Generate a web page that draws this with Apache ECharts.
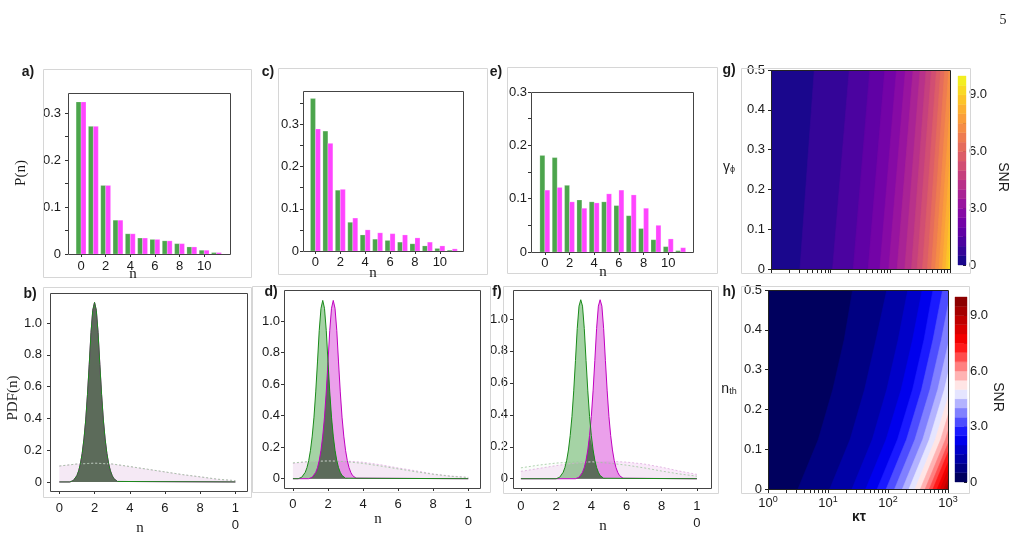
<!DOCTYPE html>
<html><head><meta charset="utf-8">
<script src="https://cdn.jsdelivr.net/npm/echarts@6/dist/echarts.min.js"></script>
<style>html,body{margin:0;padding:0;background:#fff}#c{width:1025px;height:540px}</style>
</head><body><div id="c"></div>
<script>
// ---------------- DATA ----------------
const nCats = [0,1,2,3,4,5,6,7,8,9,10,11];
const aGreen = [0.324,0.272,0.146,0.072,0.043,0.034,0.031,0.028,0.022,0.015,0.008,0.003];
const aPink  = [0.324,0.272,0.146,0.072,0.043,0.034,0.031,0.028,0.022,0.015,0.008,0.003];
const cGreen = [0.361,0.284,0.144,0.068,0.038,0.028,0.025,0.021,0.017,0.012,0.006,0.002];
const cPink  = [0.289,0.255,0.146,0.078,0.050,0.043,0.041,0.038,0.031,0.021,0.012,0.005];
const eGreen = [0.181,0.177,0.125,0.0975,0.094,0.094,0.087,0.068,0.044,0.023,0.010,0.0025];
const ePink  = [0.116,0.121,0.094,0.082,0.092,0.109,0.116,0.107,0.082,0.050,0.0245,0.008];

const nGrid = [0,1,2,3,4,5,6,7,8,9,10];
const bBroadPink  = [0.100,0.113,0.118,0.113,0.097,0.080,0.063,0.046,0.032,0.017,0.008];
const bBroadGreen = [0.100,0.113,0.118,0.113,0.097,0.080,0.063,0.046,0.032,0.017,0.008];
const dBroadPink  = [0.098,0.108,0.113,0.112,0.104,0.088,0.068,0.050,0.030,0.017,0.009];
const dBroadGreen = [0.100,0.110,0.112,0.108,0.097,0.080,0.062,0.044,0.028,0.015,0.007];
const fBroadPink  = [0.046,0.064,0.082,0.097,0.106,0.109,0.104,0.092,0.072,0.048,0.027];
const fBroadGreen = [0.068,0.085,0.098,0.105,0.105,0.098,0.085,0.068,0.048,0.030,0.016];

const bPeakGreen = [[0,0],[0.6,0],[0.7,0.003],[0.8,0.009],[0.9,0.02],[1.0,0.04],[1.1,0.07],[1.2,0.115],[1.3,0.18],[1.4,0.27],[1.5,0.39],[1.6,0.55],[1.7,0.74],[1.8,0.94],[1.9,1.08],[2.0,1.13],[2.1,1.08],[2.2,0.94],[2.3,0.74],[2.4,0.55],[2.5,0.39],[2.6,0.27],[2.7,0.18],[2.8,0.115],[2.9,0.07],[3.0,0.04],[3.1,0.02],[3.2,0.009],[3.3,0.003],[3.4,0],[10,0]];
const bPeakPink  = [[0,0],[0.6,0],[0.7,0.003],[0.8,0.009],[0.9,0.02],[1.0,0.04],[1.1,0.07],[1.2,0.115],[1.3,0.18],[1.4,0.27],[1.5,0.39],[1.6,0.55],[1.7,0.74],[1.8,0.94],[1.9,1.08],[2.0,1.13],[2.1,1.08],[2.2,0.94],[2.3,0.74],[2.4,0.55],[2.5,0.39],[2.6,0.27],[2.7,0.18],[2.8,0.115],[2.9,0.07],[3.0,0.04],[3.1,0.02],[3.2,0.009],[3.3,0.003],[3.4,0],[10,0]];
const dPeakGreen = [[0,0],[0.3,0],[0.4,0.003],[0.5,0.009],[0.6,0.02],[0.7,0.04],[0.8,0.07],[0.9,0.115],[1.0,0.18],[1.1,0.27],[1.2,0.39],[1.3,0.55],[1.4,0.74],[1.5,0.94],[1.6,1.08],[1.7,1.13],[1.8,1.08],[1.9,0.94],[2.0,0.74],[2.1,0.55],[2.2,0.39],[2.3,0.27],[2.4,0.18],[2.5,0.115],[2.6,0.07],[2.7,0.04],[2.8,0.02],[2.9,0.009],[3.0,0.003],[3.1,0],[10,0]];
const dPeakPink  = [[0,0],[0.9,0],[1.0,0.003],[1.1,0.009],[1.2,0.02],[1.3,0.04],[1.4,0.07],[1.5,0.115],[1.6,0.18],[1.7,0.27],[1.8,0.39],[1.9,0.55],[2.0,0.74],[2.1,0.94],[2.2,1.08],[2.3,1.13],[2.4,1.08],[2.5,0.94],[2.6,0.74],[2.7,0.55],[2.8,0.39],[2.9,0.27],[3.0,0.18],[3.1,0.115],[3.2,0.07],[3.3,0.04],[3.4,0.02],[3.5,0.009],[3.6,0.003],[3.7,0],[10,0]];
const fPeakGreen = [[0,0],[2.0,0],[2.1,0.003],[2.2,0.009],[2.3,0.02],[2.4,0.04],[2.5,0.07],[2.6,0.115],[2.7,0.18],[2.8,0.27],[2.9,0.39],[3.0,0.55],[3.1,0.74],[3.2,0.94],[3.3,1.08],[3.4,1.12],[3.5,1.08],[3.6,0.94],[3.7,0.74],[3.8,0.55],[3.9,0.39],[4.0,0.27],[4.1,0.18],[4.2,0.115],[4.3,0.07],[4.4,0.04],[4.5,0.02],[4.6,0.009],[4.7,0.003],[4.8,0],[10,0]];
const fPeakPink  = [[0,0],[3.1,0],[3.2,0.003],[3.3,0.009],[3.4,0.02],[3.5,0.04],[3.6,0.07],[3.7,0.115],[3.8,0.18],[3.9,0.27],[4.0,0.39],[4.1,0.55],[4.2,0.74],[4.3,0.94],[4.4,1.08],[4.5,1.12],[4.6,1.08],[4.7,0.94],[4.8,0.74],[4.9,0.55],[5.0,0.39],[5.1,0.27],[5.2,0.18],[5.3,0.115],[5.4,0.07],[5.5,0.04],[5.6,0.02],[5.7,0.009],[5.8,0.003],[5.9,0],[10,0]];

// contour levels (SNR) and boundary positions, x in log10(kappa*tau)
const snrLevels = [0,0.5,1,1.5,2,2.5,3,3.5,4,4.5,5,5.5,6,6.5,7,7.5,8,8.5,9,9.5];
const gGamma = [0, 0.5];
const gBoundBottom = [0.485,1.032,1.378,1.629,1.824,1.974,2.114,2.242,2.354,2.448,2.538,2.621,2.688,2.755,2.816,2.872,2.928,2.973,3.02];
const gBoundTop    = [0.725,1.311,1.656,1.907,2.103,2.253,2.381,2.499,2.599,2.688,2.772,2.844,2.911,2.978,3.04,3.10,3.16,3.21,3.26];
const hNth = [0, 0.125, 0.25, 0.375, 0.5];
const hBounds = [
  [0.50, 0.84, 1.08, 1.27, 1.41],
  [1.03, 1.37, 1.61, 1.80, 1.98],
  [1.40, 1.74, 1.98, 2.17, 2.33],
  [1.63, 1.97, 2.22, 2.41, 2.57],
  [1.82, 2.16, 2.41, 2.60, 2.75],
  [1.97, 2.31, 2.56, 2.75, 2.91],
  [2.11, 2.45, 2.70, 2.89, 3.05],
  [2.24, 2.58, 2.83, 3.02, 3.18],
  [2.35, 2.69, 2.94, 3.13, 3.29],
  [2.45, 2.79, 3.04, 3.23, 3.39],
  [2.54, 2.88, 3.13, 3.32, 3.48],
  [2.62, 2.96, 3.21, 3.40, 3.56],
  [2.69, 3.03, 3.28, 3.47, 3.63],
  [2.75, 3.09, 3.34, 3.53, 3.69],
  [2.82, 3.16, 3.41, 3.60, 3.76],
  [2.87, 3.21, 3.46, 3.65, 3.81],
  [2.93, 3.27, 3.52, 3.71, 3.87],
  [2.97, 3.31, 3.56, 3.75, 3.91],
  [3.02, 3.36, 3.61, 3.80, 3.96]
];

const barTicks = [0,2,4,6,8,10];
const pdfTicks = [0,2,4,6,8,10];
const logDecades = [0,1,2,3];
const cbarLabels = [0,3,6,9];
const cbarTicks = [0,1.5,3,4.5,6,7.5,9];

// ---------------- STYLE ----------------
const SANS = '"Liberation Sans", Arial, sans-serif';
const SERIF = '"Liberation Serif", "DejaVu Serif", serif';
const TXT = '#1a1a1a';
const GREEN = '#4ca54c', PINK = '#ff45ff';
const plasmaStops = [[13,8,135],[65,4,157],[106,0,168],[143,13,164],[177,42,144],[204,71,120],[225,100,98],[242,132,75],[252,166,54],[252,206,37],[240,249,33]];
const seismicStops = [[0,0,76],[0,0,255],[255,255,255],[255,0,0],[127,0,0]];
function cmap(stops, t){
  t = Math.max(0, Math.min(1, t));
  const p = t*(stops.length-1); const i = Math.min(Math.floor(p), stops.length-2); const f = p-i;
  const a = stops[i], b = stops[i+1];
  return 'rgb(' + [0,1,2].map(j=>Math.round(a[j]+(b[j]-a[j])*f)).join(',') + ')';
}
function fmt1(v){ return Math.abs(v) < 1e-9 ? '0' : v.toFixed(1); }
function range(a,b,s){ const r=[]; for(let v=a; v<=b+1e-9; v+=s) r.push(Math.round(v*1000)/1000); return r; }

const G = {
  a:{left:68,top:93,width:162,height:161},
  c:{left:303,top:91,width:160,height:160},
  e:{left:531,top:92,width:162,height:160},
  b:{left:50,top:293,width:197,height:198},
  d:{left:284,top:290,width:196,height:198},
  f:{left:513,top:290,width:198,height:198},
  g:{left:771,top:70,width:179,height:199},
  h:{left:768,top:290,width:180,height:199},
  gc:{left:958,top:76,width:8,height:189},
  hc:{left:955,top:297,width:12,height:185}
};
const order = ['a','c','e','b','d','f','g','h','gc','hc'];
const gi = k => order.indexOf(k);

const grid = order.map(k => Object.assign({show:false, containLabel:false}, G[k]));
const xAxis = [], yAxis = [];
const tickStyle = {color:'#333', width:1};
const labStyle = {fontFamily:SANS, fontSize:13, color:TXT};
const noLine = {show:false, onZero:false};

function barAxes(k, xmin, xmax, ymax, yTicks, xMargin, yMargin){
  xAxis.push({type:'value', gridIndex:gi(k), min:xmin, max:xmax, splitLine:{show:false}, axisLine:noLine,
    axisTick:{show:true, customValues:barTicks, length:3, lineStyle:tickStyle},
    axisLabel:Object.assign({customValues:barTicks, margin:xMargin}, labStyle)});
  yAxis.push({type:'value', gridIndex:gi(k), min:0, max:ymax, splitLine:{show:false}, axisLine:noLine,
    axisTick:{show:true, customValues:yTicks, length:3, lineStyle:tickStyle},
    axisLabel:Object.assign({customValues:[0,0.1,0.2,0.3], margin:yMargin, formatter:fmt1}, labStyle)});
}
barAxes('a', -1.06, 12.1, 0.343, range(0,0.3,0.05), 6, 7);
barAxes('c', -1.0, 11.86, 0.379, range(0,0.35,0.05), 5, 4);
barAxes('e', -1.12, 12.0, 0.30, range(0,0.3,0.05), 5, 4);

function pdfAxes(k, xmin, xmax, ymin, ymax, xMargin, yMargin){
  xAxis.push({type:'value', gridIndex:gi(k), min:xmin, max:xmax, splitLine:{show:false}, axisLine:noLine,
    axisTick:{show:true, customValues:pdfTicks, length:3, lineStyle:tickStyle},
    axisLabel:Object.assign({customValues:pdfTicks, margin:xMargin, lineHeight:17,
      formatter:v => v===10 ? '1\n0' : String(v)}, labStyle)});
  yAxis.push({type:'value', gridIndex:gi(k), min:ymin, max:ymax, splitLine:{show:false}, axisLine:noLine,
    axisTick:{show:true, customValues:range(0,1,0.2), length:3, lineStyle:tickStyle},
    axisLabel:Object.assign({customValues:range(0,1,0.2), margin:yMargin, formatter:fmt1}, labStyle)});
}
pdfAxes('b', -0.53, 10.66, -0.057, 1.189, 9, 8);
pdfAxes('d', -0.51, 10.67, -0.059, 1.196, 8, 4);
pdfAxes('f', -0.45, 10.8, -0.058, 1.181, 10, 5);

const logTicks = [];
logDecades.forEach(d => { if(d<3){ for(let m=1;m<10;m++) logTicks.push(d+Math.log10(m)); } else logTicks.push(3); });
function mapAxes(k, showX){
  xAxis.push({type:'value', gridIndex:gi(k), min:0, max:3, splitLine:{show:false}, axisLine:noLine,
    axisTick:{show:true, customValues:logTicks, length:4, lineStyle:{color:'#222', width:1}},
    axisLabel:{show:showX, customValues:logDecades, margin:6, formatter:v => '{b|10}{s|' + Math.round(v) + '}',
      rich:{b:{fontFamily:SANS, fontSize:13, color:TXT, lineHeight:16}, s:{fontFamily:SANS, fontSize:9, color:TXT, verticalAlign:'top', lineHeight:10}}}});
  yAxis.push({type:'value', gridIndex:gi(k), min:0, max:0.5, splitLine:{show:false}, axisLine:noLine,
    axisTick:{show:true, customValues:range(0,0.5,0.1), length:3, lineStyle:{color:'#222', width:1}},
    axisLabel:Object.assign({customValues:range(0,0.5,0.1), margin:6, formatter:fmt1}, labStyle)});
}
mapAxes('g', false);
mapAxes('h', true);

function cbarAxes(k){
  xAxis.push({type:'value', gridIndex:gi(k), min:0, max:1, show:false});
  yAxis.push({type:'value', gridIndex:gi(k), min:0, max:10, position:'right', splitLine:{show:false}, axisLine:noLine,
    axisTick:{show:true, inside:true, customValues:cbarTicks, length:3, lineStyle:{color:'#222', width:1}},
    axisLabel:Object.assign({customValues:cbarLabels, margin:3, formatter:fmt1}, labStyle)});
}
cbarAxes('gc');
cbarAxes('hc');

// ---------------- SERIES ----------------
const series = [];
function barRender(offset, color){
  return function(params, api){
    const n = api.value(0), v = api.value(1);
    const p0 = api.coord([n+offset, v]);
    const p1 = api.coord([n+offset+0.4, 0]);
    return {type:'rect', shape:{x:p0[0], y:p0[1], width:p1[0]-p0[0], height:p1[1]-p0[1]},
      style:{fill:color, stroke:'rgba(255,255,255,0.35)', lineWidth:0.6}};
  };
}
function addBars(k, green, pink){
  series.push({type:'custom', xAxisIndex:gi(k), yAxisIndex:gi(k), renderItem:barRender(-0.4, GREEN), data:nCats.map((n,i)=>[n, green[i]])});
  series.push({type:'custom', xAxisIndex:gi(k), yAxisIndex:gi(k), renderItem:barRender(0, PINK), data:nCats.map((n,i)=>[n, pink[i]])});
}
addBars('a', aGreen, aPink);
addBars('c', cGreen, cPink);
addBars('e', eGreen, ePink);

// pointwise overlap (min) of two peaks sampled on the same 0.1 grid
function overlapData(p, q){
  const key = x => Math.round(x*10);
  const mp = new Map(p.map(d=>[key(d[0]), d[1]])), mq = new Map(q.map(d=>[key(d[0]), d[1]]));
  const keys = Array.from(new Set([...mp.keys(), ...mq.keys()])).sort((a,b)=>a-b);
  return keys.map(k => [k/10, Math.min(mp.has(k)?mp.get(k):0, mq.has(k)?mq.get(k):0)]);
}
function addPdf(k, broadPink, broadGreen, peakPink, peakGreen){
  const base = {type:'line', xAxisIndex:gi(k), yAxisIndex:gi(k), showSymbol:false, symbol:'none', silent:true};
  series.push(Object.assign({}, base, {data:nGrid.map((n,i)=>[n, broadPink[i]]),
    lineStyle:{color:'#dca8dc', width:0.8, type:[2,2]}, areaStyle:{color:'rgba(230,150,230,0.28)'}}));
  series.push(Object.assign({}, base, {data:nGrid.map((n,i)=>[n, broadGreen[i]]),
    lineStyle:{color:'#9cc89c', width:0.8, type:[2,2]}, areaStyle:{color:'rgba(150,210,150,0.07)'}}));
  series.push(Object.assign({}, base, {data:peakPink, lineStyle:{width:0, opacity:0}, areaStyle:{color:'rgba(200,0,200,0.53)'}}));
  series.push(Object.assign({}, base, {data:peakGreen, lineStyle:{width:0, opacity:0}, areaStyle:{color:'rgba(20,140,20,0.55)'}}));
  series.push(Object.assign({}, base, {data:overlapData(peakPink, peakGreen), lineStyle:{width:0, opacity:0}, areaStyle:{color:'rgb(92,107,90)', opacity:1}}));
  series.push(Object.assign({}, base, {data:peakPink, lineStyle:{color:'#c000c0', width:1}}));
  series.push(Object.assign({}, base, {data:peakGreen, lineStyle:{color:'#1a8a1a', width:1}}));
}
addPdf('b', bBroadPink, bBroadGreen, bPeakPink, bPeakGreen);
addPdf('d', dBroadPink, dBroadGreen, dPeakPink, dPeakGreen);
addPdf('f', fBroadPink, fBroadGreen, fPeakPink, fPeakGreen);

const FAR = 4.5;
function contourRender(bounds, ys, stops){
  return function(params, api){
    const k = api.value(0), L = api.value(1);
    const y0 = ys[0], y1 = ys[ys.length-1];
    let pts;
    if(k === 0){ pts = [[-0.5,y0],[FAR,y0],[FAR,y1],[-0.5,y1]]; }
    else { const b = bounds[k-1]; pts = ys.map((y,j)=>[b[j], y]); pts.push([FAR,y1]); pts.push([FAR,y0]); }
    const c = cmap(stops, (L+0.25)/10);
    return {type:'polygon', shape:{points:pts.map(p=>api.coord(p))}, style:{fill:c, stroke:c, lineWidth:0.6}};
  };
}
const gBounds = gBoundBottom.map((b,i)=>[b, gBoundTop[i]]);
series.push({type:'custom', xAxisIndex:gi('g'), yAxisIndex:gi('g'), clip:true, silent:true,
  renderItem:contourRender(gBounds, gGamma, plasmaStops), data:snrLevels.map((L,k)=>[k, L])});
series.push({type:'custom', xAxisIndex:gi('h'), yAxisIndex:gi('h'), clip:true, silent:true,
  renderItem:contourRender(hBounds, hNth, seismicStops), data:snrLevels.map((L,k)=>[k, L])});

function cbarRender(stops){
  return function(params, api){
    const L = api.value(1);
    const p0 = api.coord([0, L+0.5]), p1 = api.coord([1, L]);
    const c = cmap(stops, (L+0.25)/10);
    return {type:'rect', shape:{x:p0[0], y:p0[1], width:p1[0]-p0[0], height:p1[1]-p0[1]}, style:{fill:c, stroke:c, lineWidth:0.4}};
  };
}
series.push({type:'custom', xAxisIndex:gi('gc'), yAxisIndex:gi('gc'), silent:true, renderItem:cbarRender(plasmaStops), data:snrLevels.map((L,k)=>[k, L])});
series.push({type:'custom', xAxisIndex:gi('hc'), yAxisIndex:gi('hc'), silent:true, renderItem:cbarRender(seismicStops), data:snrLevels.map((L,k)=>[k, L])});

// ---------------- GRAPHIC ----------------
const graphic = [];
const frames = [[43,69,251,277],[278,68,487,274],[507,67,717,273],[741,68,970,273],
                [43,287,251,497],[252,286,490,492],[503,286,718,493],[741,286,969,493]];
frames.forEach(f => graphic.push({type:'rect', z:1, silent:true, shape:{x:f[0]+0.5, y:f[1]+0.5, width:f[2]-f[0], height:f[3]-f[1]},
  style:{fill:null, stroke:'#d6d6d6', lineWidth:1}}));
['a','c','e','b','d','f','g','h'].forEach(k => {
  const g = G[k];
  graphic.push({type:'rect', z:150, silent:true, shape:{x:g.left+0.5, y:g.top+0.5, width:g.width, height:g.height},
    style:{fill:null, stroke:(k==='g'||k==='h') ? '#222' : '#444', lineWidth:1}});
});
function T(text, x, y, font, extra){
  return Object.assign({type:'text', x:x, y:y, z:200, silent:true,
    style:{text:text, font:font, fill:TXT, textAlign:'center', textVerticalAlign:'middle', verticalAlign:'middle'}}, extra || {});
}
const LET = 'bold 14px ' + SANS;
[['a)',28,72],['c)',268,72],['e)',496,72],['g)',729,70],['b)',30,294],['d)',271,292],['f)',497,292],['h)',729,292]]
  .forEach(t => graphic.push(T(t[0], t[1], t[2], LET)));
const AX = '15px ' + SERIF;
graphic.push(T('P(n)', 21, 173, AX, {rotation:Math.PI/2}));
graphic.push(T('PDF(n)', 13, 398, AX, {rotation:Math.PI/2}));
[['n',133,274],['n',373,273],['n',603,272],['n',140,528],['n',378,519],['n',603,526]].forEach(t => graphic.push(T(t[0], t[1], t[2], AX)));
graphic.push(T('5', 1003, 20, '14px ' + SERIF));
graphic.push({type:'text', x:729, y:167, z:200, silent:true, style:{text:'{g|γ}{s|ϕ}', textAlign:'center', textVerticalAlign:'middle', verticalAlign:'middle',
  rich:{g:{fontFamily:SANS, fontSize:14, fill:TXT, color:TXT}, s:{fontFamily:SANS, fontSize:9, fill:TXT, color:TXT, verticalAlign:'bottom', padding:[6,0,0,0]}}}});
graphic.push({type:'text', x:729, y:389, z:200, silent:true, style:{text:'{g|n}{s|th}', textAlign:'center', textVerticalAlign:'middle', verticalAlign:'middle',
  rich:{g:{fontFamily:SANS, fontSize:14, fill:TXT, color:TXT}, s:{fontFamily:SANS, fontSize:9, fill:TXT, color:TXT, verticalAlign:'bottom', padding:[6,0,0,0]}}}});
graphic.push(T('κτ', 859, 517, 'bold 14px ' + SANS));
graphic.push(T('SNR', 1003, 177, '14px ' + SANS, {rotation:-Math.PI/2}));
graphic.push(T('SNR', 998, 397, '14px ' + SANS, {rotation:-Math.PI/2}));

const chart = echarts.init(document.getElementById('c'), null, {renderer:'canvas', width:1025, height:540});
chart.setOption({animation:false, backgroundColor:'#fff', grid:grid, xAxis:xAxis, yAxis:yAxis, series:series, graphic:graphic});
</script></body></html>
